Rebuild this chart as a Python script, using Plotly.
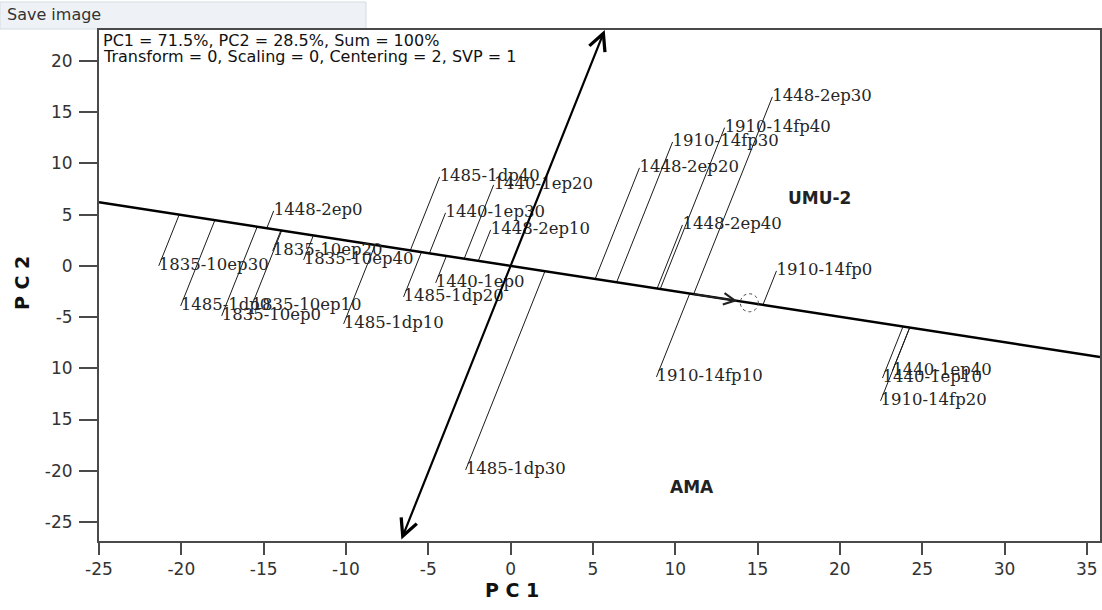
import numpy as np
import plotly.graph_objects as go

# ---------------- data ----------------
labels = [
    "1448-2ep30", "1910-14fp40", "1910-14fp30", "1448-2ep20", "1448-2ep40",
    "1910-14fp0", "1910-14fp10", "1440-1ep40", "1440-1ep10", "1910-14fp20",
    "1485-1dp30", "1440-1ep0", "1485-1dp20", "1485-1dp10", "1448-2ep10",
    "1440-1ep30", "1440-1ep20", "1485-1dp40", "1448-2ep0", "1835-10ep20",
    "1835-10ep40", "1835-10ep30", "1485-1dp0", "1835-10ep10", "1835-10ep0",
]
pc1 = [15.9, 13.0, 9.84, 7.83, 10.44,
       16.15, 8.86, 23.19, 22.59, 22.47,
       -2.73, -4.55, -6.5, -10.14, -1.21,
       -3.95, -1.03, -4.31, -14.39, -14.45,
       -12.57, -21.37, -20.04, -15.73, -17.55]
pc2 = [16.5, 13.5, 12.1, 9.57, 4.0,
       -0.49, -10.84, -10.25, -10.94, -13.18,
       -19.92, -1.66, -3.03, -5.66, 3.52,
       5.18, 7.91, 8.69, 5.37, 1.46,
       0.59, 0.0, -3.91, -3.91, -4.88]

# average environment (AEC) point
aec_point = [14.5, -3.6]

sector_labels = ["UMU-2", "AMA"]
sector_x = [18.76, 10.99]
sector_y = [6.64, -21.6]

info_lines = ["PC1 = 71.5%, PC2 = 28.5%, Sum = 100%",
              "Transform = 0, Scaling = 0, Centering = 2, SVP = 1"]

x_tickvals = [-25, -20, -15, -10, -5, 0, 5, 10, 15, 20, 25, 30, 35]
x_ticktext = ["-25", "-20", "-15", "-10", "-5", "0", "5", "10", "15", "20", "25", "30", "35"]
y_tickvals = [20, 15, 10, 5, 0, -5, -10, -15, -20, -25]
y_ticktext = ["20", "15", "10", "5", "0", "-5", "10", "15", "-20", "-25"]

# ---------------- layout constants ----------------
W, H = 1102, 610
ML, MR, MT, MB = 99, 2, 30, 69
X_RANGE = [-25.0, 35.8]
Y_RANGE = [-26.86, 23.03]
PW, PH = W - ML - MR, H - MT - MB


def px2paper_x(px):
    return (px - ML) / PW


def px2paper_y(py):
    return (H - MB - py) / PH


# AEC geometry
a = np.array(aec_point, dtype=float)
u = a / np.linalg.norm(a)          # abscissa direction
slope = a[1] / a[0]

# projection lines
lx, ly = [], []
for x, y in zip(pc1, pc2):
    d = x * u[0] + y * u[1]
    fx, fy = d * u[0], d * u[1]
    lx += [x, fx, None]
    ly += [y, fy, None]

fig = go.Figure()

fig.add_trace(go.Scatter(x=lx, y=ly, mode="lines",
                         line=dict(color="#1a1a1a", width=1),
                         hoverinfo="skip", showlegend=False))

# AEC abscissa
fig.add_trace(go.Scatter(x=[X_RANGE[0], X_RANGE[1]],
                         y=[slope * X_RANGE[0], slope * X_RANGE[1]],
                         mode="lines", line=dict(color="black", width=2.5),
                         hoverinfo="skip", showlegend=False))

# labels
fig.add_trace(go.Scatter(x=pc1, y=pc2, mode="text", text=labels,
                         textposition="middle right",
                         textfont=dict(family="DejaVu Serif", size=16.5, color="#262626"),
                         cliponaxis=False, hoverinfo="skip", showlegend=False))

annotations = []
# AEC ordinate (double headed)
top_y, bot_y = Y_RANGE[1], Y_RANGE[0]
top_x = -top_y * a[1] / a[0]
bot_x = -bot_y * a[1] / a[0]
annotations.append(dict(x=top_x, y=top_y, ax=bot_x, ay=bot_y,
                        xref="x", yref="y", axref="x", ayref="y",
                        text="", showarrow=True, arrowside="end+start",
                        arrowhead=5, startarrowhead=5,
                        arrowsize=1.5, startarrowsize=1.5,
                        arrowwidth=2.2, arrowcolor="black"))
# small arrow on abscissa pointing to the average environment
tip = 0.95 * np.linalg.norm(a)
tail = 0.76 * np.linalg.norm(a)
annotations.append(dict(x=tip * u[0], y=tip * u[1], ax=tail * u[0], ay=tail * u[1],
                        xref="x", yref="y", axref="x", ayref="y",
                        text="", showarrow=True, arrowhead=5, arrowsize=1.4,
                        arrowwidth=1.6, arrowcolor="#222"))

for t, x, y in zip(sector_labels, sector_x, sector_y):
    annotations.append(dict(x=x, y=y, xref="x", yref="y", text="<b>" + t + "</b>",
                            showarrow=False,
                            font=dict(family="DejaVu Sans", size=17, color="#222"),
                            xanchor="center", yanchor="middle"))

for i, (t, py) in enumerate(zip(info_lines, [40, 56])):
    annotations.append(dict(x=px2paper_x(101), y=px2paper_y(py), xref="paper", yref="paper",
                            text=t, showarrow=False, xanchor="left", yanchor="middle",
                            font=dict(family="DejaVu Sans", size=16, color="#111")))

# axis titles
annotations.append(dict(x=px2paper_x(512), y=px2paper_y(590), xref="paper", yref="paper",
                        text="<b>P C 1</b>", showarrow=False,
                        font=dict(family="DejaVu Sans", size=19, color="#111"),
                        xanchor="center", yanchor="middle"))
annotations.append(dict(x=px2paper_x(22), y=px2paper_y(283), xref="paper", yref="paper",
                        text="<b>P C 2</b>", showarrow=False, textangle=-90,
                        font=dict(family="DejaVu Sans", size=19, color="#111"),
                        xanchor="center", yanchor="middle"))

# "Save image" button
annotations.append(dict(x=px2paper_x(5), y=px2paper_y(15), xref="paper", yref="paper",
                        text="Save image", showarrow=False, xanchor="left", yanchor="middle",
                        font=dict(family="DejaVu Sans", size=16, color="#333")))

shapes = [
    dict(type="rect", xref="paper", yref="paper",
         x0=px2paper_x(0), x1=px2paper_x(366), y0=px2paper_y(29), y1=px2paper_y(2),
         fillcolor="#eef2f7", line=dict(color="#d3dbe4", width=1), layer="below"),
    dict(type="circle", xref="x", yref="y", xsizemode="pixel", ysizemode="pixel",
         xanchor=aec_point[0], yanchor=aec_point[1], x0=-9, x1=9, y0=-9, y1=9,
         line=dict(color="#444", width=1, dash="dot")),
]

axis_common = dict(showgrid=False, zeroline=False, showline=True, mirror=True,
                   linecolor="#4a4a4a", linewidth=2, ticks="outside", tickwidth=2,
                   tickcolor="#4a4a4a",
                   tickfont=dict(family="DejaVu Sans", size=17, color="#333"))

fig.update_layout(
    width=W, height=H,
    margin=dict(l=ML, r=MR, t=MT, b=MB, autoexpand=False),
    paper_bgcolor="white", plot_bgcolor="white",
    xaxis=dict(range=X_RANGE, tickvals=x_tickvals, ticktext=x_ticktext,
               ticklen=12, automargin=False, **axis_common),
    yaxis=dict(range=Y_RANGE, tickvals=y_tickvals, ticktext=y_ticktext,
               ticklen=18, ticklabelstandoff=3, automargin=False, **axis_common),
    annotations=annotations, shapes=shapes, showlegend=False,
)

fig.write_html("out.html", config={"displayModeBar": False},
               post_script="document.body.style.margin='0';document.body.style.overflow='hidden';")
